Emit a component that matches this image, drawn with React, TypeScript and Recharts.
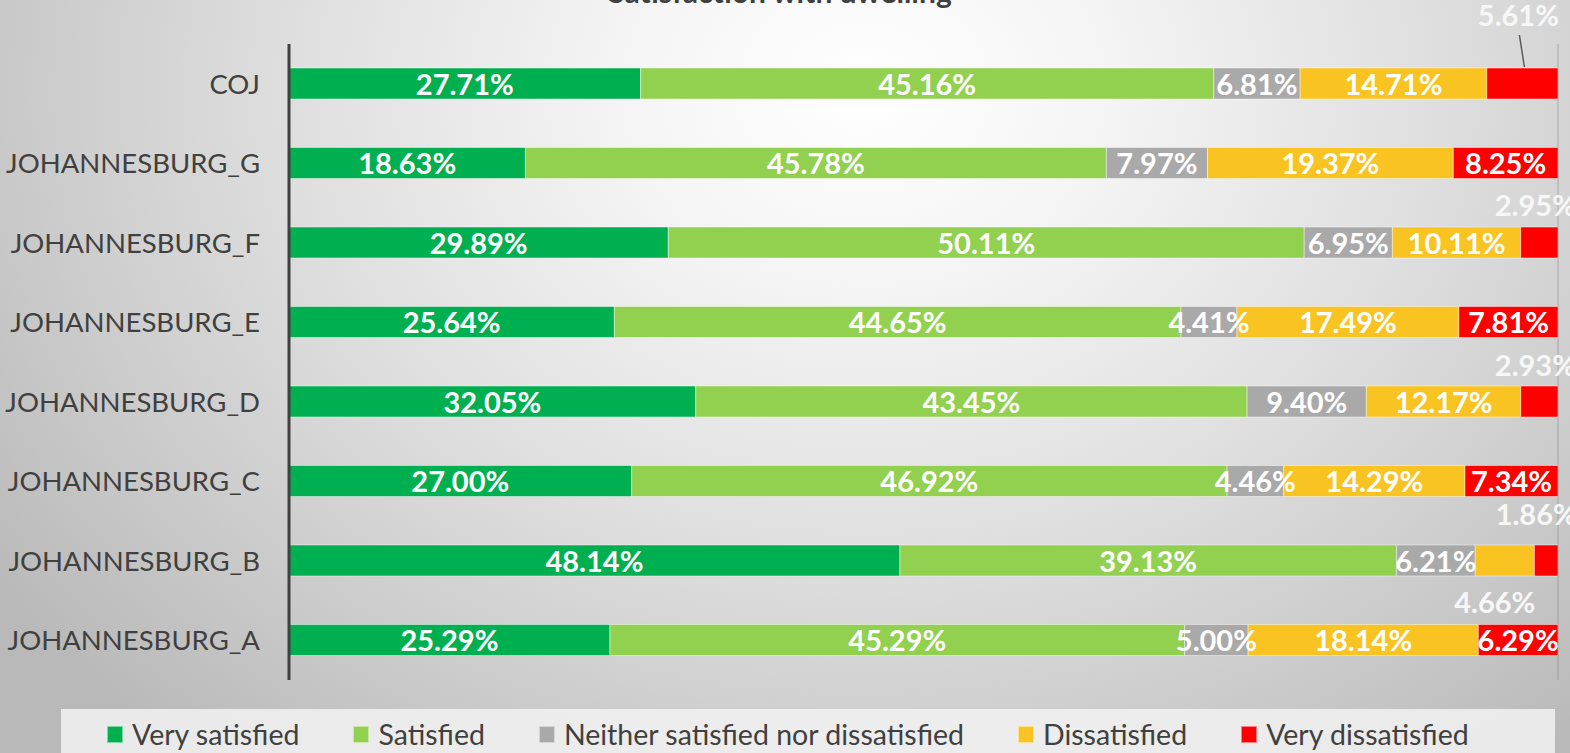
import React from 'react';
import { BarChart, Bar, XAxis, YAxis, CartesianGrid, LabelList } from 'recharts';

const categories = ['COJ', 'JOHANNESBURG_G', 'JOHANNESBURG_F', 'JOHANNESBURG_E', 'JOHANNESBURG_D', 'JOHANNESBURG_C', 'JOHANNESBURG_B', 'JOHANNESBURG_A'];
const verySatisfied = [27.71, 18.63, 29.89, 25.64, 32.05, 27.0, 48.14, 25.29];
const satisfied = [45.16, 45.78, 50.11, 44.65, 43.45, 46.92, 39.13, 45.29];
const neither = [6.81, 7.97, 6.95, 4.41, 9.4, 4.46, 6.21, 5.0];
const dissatisfied = [14.71, 19.37, 10.11, 17.49, 12.17, 14.29, 4.66, 18.14];
const veryDissatisfied = [5.61, 8.25, 2.95, 7.81, 2.93, 7.34, 1.86, 6.29];
const xTicks = [0, 10, 20, 30, 40, 50, 60, 70, 80, 90, 100];

const seriesDefs = [
  { key: 'verySatisfied', name: 'Very satisfied', color: '#00b050', values: verySatisfied },
  { key: 'satisfied', name: 'Satisfied', color: '#92d050', values: satisfied },
  { key: 'neither', name: 'Neither satisfied nor dissatisfied', color: '#a9a9a9', values: neither },
  { key: 'dissatisfied', name: 'Dissatisfied', color: '#f9c322', values: dissatisfied },
  { key: 'veryDissatisfied', name: 'Very dissatisfied', color: '#ff0000', values: veryDissatisfied },
];

// labels that Excel moved outside their segments (offsets relative to segment centre / bar top)
const outsideLabels = [
  { series: 'veryDissatisfied', category: 'COJ', dx: -4, dy: -42, leader: true },
  { series: 'veryDissatisfied', category: 'JOHANNESBURG_F', dx: -4, dy: -11, leader: false },
  { series: 'veryDissatisfied', category: 'JOHANNESBURG_D', dx: -4, dy: -10, leader: false },
  { series: 'veryDissatisfied', category: 'JOHANNESBURG_B', dx: -10, dy: -20, leader: false },
  { series: 'dissatisfied', category: 'JOHANNESBURG_B', dx: -10, dy: 68, leader: false },
];

const data = categories.map((c, i) => {
  const row: any = { name: c };
  seriesDefs.forEach((s) => { row[s.key] = s.values[i]; });
  return row;
});

const FONT = 'Lato, "Open Sans", sans-serif';

const makeLabel = (seriesKey: string) => (props: any) => {
  const { x, y, width, height, value, index } = props;
  const cat = categories[index];
  const txt = `${Number(value).toFixed(2)}%`;
  const cx = Number(x) + Number(width) / 2;
  const out = outsideLabels.find((o) => o.series === seriesKey && o.category === cat);
  if (out) {
    const lx = cx + out.dx;
    const by = Number(y) + out.dy;
    return (
      <g>
        {out.leader && (
          <line x1={cx - 3} y1={Number(y) - 33} x2={cx + 2} y2={Number(y) - 1} stroke="#595959" strokeWidth={1.5} />
        )}
        <text x={lx} y={by} textAnchor="middle" fill="#f7f7f7" fontFamily={FONT} fontWeight={700} fontSize={29}>
          {txt}
        </text>
      </g>
    );
  }
  return (
    <text x={cx} y={Number(y) + Number(height) / 2 + 11} textAnchor="middle" fill="#ffffff" fontFamily={FONT} fontWeight={700} fontSize={29}>
      {txt}
    </text>
  );
};

export default function App() {
  return (
    <div
      style={{
        position: 'absolute',
        left: 0,
        top: 0,
        width: 1570,
        height: 753,
        overflow: 'hidden',
        background:
          'radial-gradient(ellipse 68% 115% at 55% 12%, #ffffff 0%, #f5f5f5 22%, #e0e0e0 52%, #cbcbcb 78%, #b9b9b9 100%)',
        fontFamily: FONT,
      }}
    >
      <div
        style={{
          position: 'absolute',
          left: 0,
          width: 1560,
          top: -24,
          lineHeight: '30px',
          textAlign: 'center',
          fontSize: 30,
          fontWeight: 700,
          color: '#404040',
        }}
      >
        Satisfaction with dwelling
      </div>
      <BarChart
        width={1570}
        height={753}
        data={data}
        layout="vertical"
        margin={{ top: 44, right: 12, bottom: 73, left: 0 }}
        barSize={31}
      >
        <CartesianGrid horizontal={false} vertical={true} stroke="#7f7f7f" strokeOpacity={0.35} strokeWidth={1.5} />
        <XAxis
          type="number"
          domain={[0, 100]}
          ticks={xTicks}
          allowDataOverflow
          height={0}
          tick={false}
          tickLine={false}
          axisLine={false}
        />
        <YAxis
          type="category"
          dataKey="name"
          width={289}
          tickLine={false}
          tickSize={0}
          tickMargin={29}
          axisLine={{ stroke: '#404040', strokeWidth: 3 }}
          tick={{ fill: '#404040', fontSize: 27.5, fontFamily: FONT }}
          interval={0}
        />
        {seriesDefs.map((s) => (
          <Bar
            key={s.key}
            dataKey={s.key}
            name={s.name}
            stackId="a"
            fill={s.color}
            stroke="rgba(255,255,255,0.45)"
            strokeWidth={1}
            isAnimationActive={false}
          >
            <LabelList dataKey={s.key} content={makeLabel(s.key)} />
          </Bar>
        ))}
      </BarChart>
      <div
        style={{
          position: 'absolute',
          left: 61,
          top: 709,
          width: 1494,
          height: 50,
          background: 'rgba(242,242,242,0.85)',
          display: 'flex',
          alignItems: 'center',
          paddingLeft: 46,
          boxSizing: 'border-box',
        }}
      >
        {seriesDefs.map((s) => (
          <div key={s.key} style={{ display: 'flex', alignItems: 'center', marginRight: 54 }}>
            <div
              style={{
                width: 16,
                height: 17,
                background: s.color,
                border: '1px solid rgba(255,255,255,0.5)',
                boxSizing: 'border-box',
                marginRight: 9,
              }}
            />
            <span style={{ fontSize: 28.5, color: '#404040', lineHeight: '34px', whiteSpace: 'nowrap' }}>{s.name}</span>
          </div>
        ))}
      </div>
    </div>
  );
}
